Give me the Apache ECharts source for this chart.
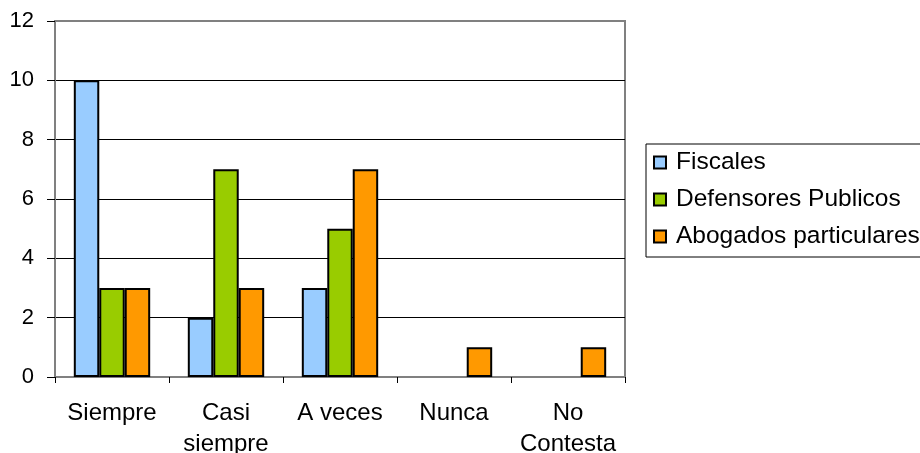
<!DOCTYPE html>
<html>
<head>
<meta charset="utf-8">
<script src="https://cdn.jsdelivr.net/npm/echarts@6/dist/echarts.min.js"></script>
<style>
html,body{margin:0;padding:0;background:#fff;}
#chart{width:920px;height:453px;}
</style>
</head>
<body>
<div id="chart"></div>
<script>
var categories = ['Siempre', 'Casi\nsiempre', 'A veces', 'Nunca', 'No\nContesta'];
var fiscales = [10, 2, 3, 0, 0];
var defensores = [3, 7, 5, 0, 0];
var abogados = [3, 3, 7, 1, 1];
var seriesNames = ['Fiscales', 'Defensores Publicos', 'Abogados particulares'];
var seriesColors = ['#99CCFF', '#99CC00', '#FF9900'];
var yTicks = { min: 0, max: 12, interval: 2 };

var FONT = '"Liberation Sans", Arial, sans-serif';

function prep(arr) {
  return arr.map(function (v) {
    return v === 0 ? { value: 0, itemStyle: { borderWidth: 0 } } : v;
  });
}

var chart = echarts.init(document.getElementById('chart'), null, { renderer: 'canvas' });
var seriesData = [fiscales, defensores, abogados];

chart.setOption({
  animation: false,
  backgroundColor: '#fff',
  textStyle: { fontFamily: FONT },
  grid: {
    left: 55, top: 21, right: 295, bottom: 76,
    containLabel: false, outerBoundsMode: 'none',
    show: true, borderColor: '#808080', borderWidth: 2, backgroundColor: 'transparent'
  },
  legend: {
    orient: 'vertical',
    left: 646, top: 144,
    padding: [6, 60, 8, 7],
    borderColor: '#000', borderWidth: 1,
    itemWidth: 12, itemHeight: 12, itemGap: 12,
    icon: 'rect',
    textStyle: { fontFamily: FONT, fontSize: 24.5, color: '#000', lineHeight: 24, padding: [0, 0, 0, 5] },
    data: seriesNames
  },
  xAxis: {
    type: 'category',
    data: categories,
    axisLine: { show: true, lineStyle: { color: '#808080', width: 2 } },
    axisTick: { show: true, length: 6, lineStyle: { color: '#000', width: 1 } },
    axisLabel: { fontFamily: FONT, fontSize: 24, color: '#000', margin: 21, lineHeight: 31, interval: 0 },
    splitLine: { show: false }
  },
  yAxis: {
    type: 'value',
    min: yTicks.min, max: yTicks.max, interval: yTicks.interval,
    axisLine: { show: true, lineStyle: { color: '#808080', width: 2 } },
    axisTick: { show: true, length: 8, lineStyle: { color: '#000', width: 1 } },
    axisLabel: { fontFamily: FONT, fontSize: 22, color: '#000', margin: 21 },
    splitLine: { show: true, showMinLine: false, showMaxLine: false, lineStyle: { color: '#000', width: 1 } }
  },
  series: seriesData.map(function (d, i) {
    return {
      name: seriesNames[i],
      type: 'bar',
      data: prep(d),
      barGap: '0%',
      barCategoryGap: '33%',
      itemStyle: { color: seriesColors[i], borderColor: '#000', borderWidth: 2 }
    };
  })
});
</script>
</body>
</html>
